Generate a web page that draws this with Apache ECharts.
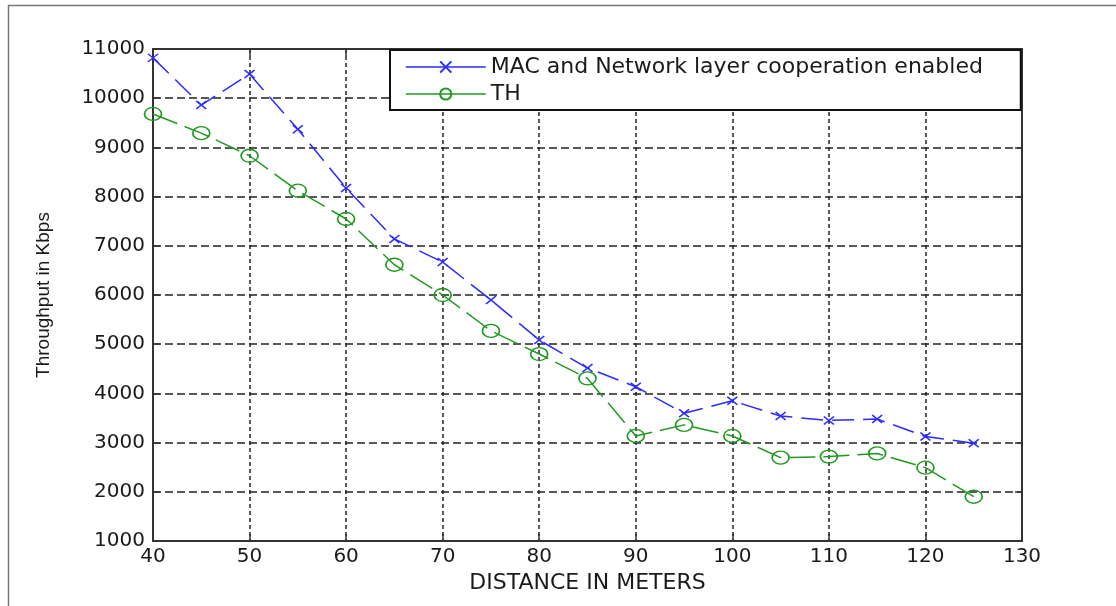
<!DOCTYPE html>
<html>
<head>
<meta charset="utf-8">
<script src="https://cdn.jsdelivr.net/npm/echarts@6/dist/echarts.min.js"></script>
<style>
  html, body { margin: 0; padding: 0; background: #fff; }
  #chart { width: 1116px; height: 606px; }
</style>
</head>
<body>
<div id="chart"></div>
<script>
var distance = [40, 45, 50, 55, 60, 65, 70, 75, 80, 85, 90, 95, 100, 105, 110, 115, 120, 125];
var macCoop = [10820, 9860, 10490, 9370, 8175, 7140, 6670, 5900, 5085, 4515, 4135, 3595, 3850, 3540, 3450, 3480, 3125, 2985];
var thValues = [9680, 9290, 8830, 8120, 7545, 6615, 6000, 5270, 4800, 4305, 3135, 3360, 3135, 2695, 2715, 2780, 2490, 1900];
var seriesNames = ['MAC and Network layer cooperation enabled', 'TH'];

var blue = '#2b2bff';
var green = '#1f9a1f';

function pairs(xs, ys) {
    return xs.map(function (x, i) { return [x, ys[i]]; });
}

function plain(v) { return String(v); }

var chart = echarts.init(document.getElementById('chart'));

var gridLineX = { show: true, lineStyle: { color: '#222', width: 1.5, type: [4, 3] } };
var gridLineY = { show: true, lineStyle: { color: '#222', width: 1.5, type: [8, 4] } };
var boxLine = { show: true, lineStyle: { color: '#333', width: 2 } };
var tickIn = { show: true, inside: true, length: 7, lineStyle: { color: '#333', width: 1.5 } };

var option = {
    backgroundColor: '#fff',
    animation: false,
    graphic: [{
        type: 'rect',
        left: 6, top: 3,
        shape: { width: 1200, height: 700 },
        style: { fill: 'none', stroke: '#777', lineWidth: 1.5 },
        silent: true
    }],
    grid: { left: 153, right: 94, top: 49, bottom: 65 },
    legend: {
        orient: 'vertical',
        left: 390,
        top: 50,
        data: seriesNames,
        backgroundColor: '#fff',
        borderColor: '#111',
        borderWidth: 2,
        borderRadius: 0,
        padding: [6, 10, 5, 15],
        itemGap: 5,
        itemWidth: 80,
        itemHeight: 14,
        lineStyle: { type: 'solid', width: 1.5 },
        textStyle: {
            fontFamily: 'DejaVu Sans',
            fontSize: 22,
            color: '#1a1a1a',
            lineHeight: 22,
            width: 520
        },
        z: 10
    },
    xAxis: [{
        type: 'value',
        min: 40, max: 130, interval: 10,
        name: 'DISTANCE IN METERS',
        nameLocation: 'middle',
        nameGap: 29,
        nameTextStyle: { fontFamily: 'DejaVu Sans', fontSize: 22, color: '#1a1a1a' },
        axisLine: boxLine,
        axisTick: tickIn,
        axisLabel: { fontFamily: 'DejaVu Sans', fontSize: 20, color: '#1a1a1a', margin: 6, formatter: plain },
        splitLine: gridLineX
    }, {
        type: 'value',
        position: 'top',
        min: 40, max: 130, interval: 10,
        axisLine: boxLine,
        axisTick: tickIn,
        axisLabel: { show: false },
        splitLine: { show: false }
    }],
    yAxis: [{
        type: 'value',
        min: 1000, max: 11000, interval: 1000,
        name: 'Throughput in Kbps',
        nameLocation: 'middle',
        nameGap: 100,
        nameTextStyle: { fontFamily: 'Liberation Sans', fontSize: 19, color: '#1a1a1a' },
        axisLine: boxLine,
        axisTick: tickIn,
        axisLabel: { fontFamily: 'DejaVu Sans', fontSize: 20, color: '#1a1a1a', margin: 8, formatter: plain },
        splitLine: gridLineY
    }, {
        type: 'value',
        position: 'right',
        min: 1000, max: 11000, interval: 1000,
        axisLine: boxLine,
        axisTick: tickIn,
        axisLabel: { show: false },
        splitLine: { show: false }
    }],
    series: [{
        name: seriesNames[0],
        type: 'line',
        data: pairs(distance, macCoop),
        symbol: 'path://M0,0L10,10M10,0L0,10',
        symbolSize: [10, 8],
        itemStyle: { color: blue, borderColor: blue, borderWidth: 1.5 },
        lineStyle: { color: blue, width: 1.5, type: [22, 9] },
        z: 3
    }, {
        name: seriesNames[1],
        type: 'line',
        data: pairs(distance, thValues),
        symbol: 'path://M0,6A8,6,0,1,1,16,6A8,6,0,1,1,0,6Z',
        symbolSize: [17, 13],
        itemStyle: { color: 'none', borderColor: green, borderWidth: 1.5 },
        lineStyle: { color: green, width: 1.5, type: [26, 8] },
        z: 2
    }]
};

chart.setOption(option);
</script>
</body>
</html>
